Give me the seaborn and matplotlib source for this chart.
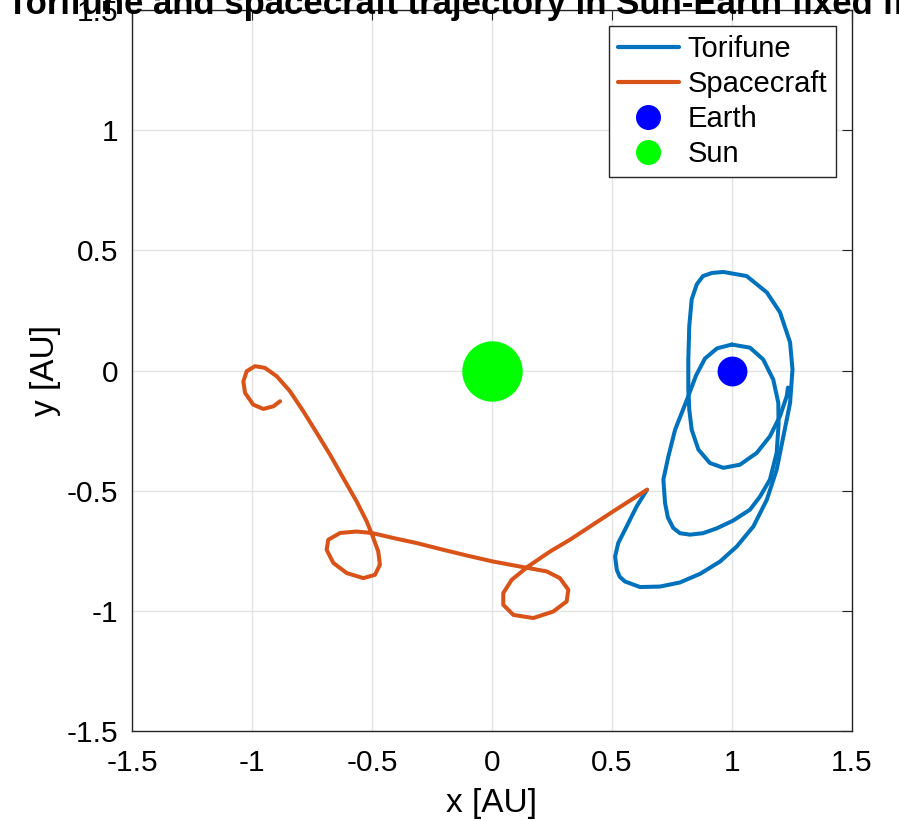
import matplotlib
matplotlib.use("Agg")
import matplotlib.pyplot as plt
from matplotlib.lines import Line2D
import seaborn as sns
import pandas as pd

# ---------------- data (AU, Sun-Earth fixed frame) ----------------
torifune_x = [0.646, 0.603, 0.561, 0.526, 0.513, 0.520, 0.532, 0.554, 0.617, 0.700, 0.783,
              0.867, 0.950, 1.020, 1.089, 1.145, 1.186, 1.214, 1.242, 1.252, 1.242,
              1.200, 1.145, 1.061, 0.964, 0.917, 0.879, 0.853, 0.832, 0.822, 0.818, 0.818,
              0.822, 0.832, 0.860, 0.908, 0.964, 1.033, 1.103, 1.158, 1.200, 1.228, 1.233]
torifune_y = [-0.496, -0.565, -0.649, -0.718, -0.774, -0.829, -0.858, -0.878, -0.901, -0.899, -0.882,
              -0.846, -0.795, -0.732, -0.649, -0.538, -0.413, -0.274, -0.135, 0.004, 0.117,
              0.242, 0.325, 0.393, 0.410, 0.406, 0.393, 0.358, 0.296, 0.185, 0.046, -0.079,
              -0.163, -0.246, -0.329, -0.385, -0.405, -0.392, -0.343, -0.274, -0.190, -0.107, -0.071]

# inner loop of the Torifune trajectory around Earth
torifune_loop_x = [0.999, 1.075, 1.130, 1.172, 1.193, 1.194, 1.186, 1.158, 1.117, 1.075,
                   1.004, 0.936, 0.879, 0.825, 0.783, 0.755, 0.733, 0.721, 0.714, 0.735, 0.763,
                   0.8125, 0.850, 0.8875, 0.9375, 0.999]
torifune_loop_y = [0.108, 0.095, 0.046, -0.038, -0.135, -0.225, -0.343, -0.454, -0.524, -0.579,
                   -0.625, -0.657, -0.677, -0.683, -0.677, -0.655, -0.612, -0.551, -0.454, -0.357, -0.246,
                   -0.121, -0.021, 0.050, 0.092, 0.108]

spacecraft_x = [-0.883, -0.911, -0.953, -0.995, -1.029, -1.036, -1.022, -0.9875, -0.946, -0.897,
                -0.842, -0.786, -0.730, -0.675, -0.620, -0.564, -0.522, -0.498, -0.474, -0.467,
                -0.4875, -0.536, -0.605, -0.661, -0.689, -0.682, -0.633, -0.564, -0.501, -0.411,
                -0.314, -0.203, -0.100, 0.005, 0.151, 0.228, 0.283, 0.318, 0.311, 0.255,
                0.172, 0.089, 0.047, 0.047, 0.082, 0.151, 0.242, 0.325, 0.505, 0.646]
spacecraft_y = [-0.128, -0.149, -0.160, -0.142, -0.093, -0.045, -0.003, 0.018, 0.011, -0.024,
                -0.086, -0.170, -0.260, -0.350, -0.447, -0.545, -0.628, -0.6875, -0.753, -0.808,
                -0.850, -0.864, -0.843, -0.801, -0.746, -0.704, -0.676, -0.670, -0.676, -0.697,
                -0.718, -0.746, -0.771, -0.795, -0.822, -0.836, -0.864, -0.9125, -0.961, -1.003,
                -1.030, -1.017, -0.975, -0.926, -0.871, -0.815, -0.753, -0.704, -0.586, -0.496]

earth_xy = [1.0, 0.0]
sun_xy = [0.0, 0.0]

ticks = [-1.5, -1.0, -0.5, 0.0, 0.5, 1.0, 1.5]
tick_labels = ["-1.5", "-1", "-0.5", "0", "0.5", "1", "1.5"]
legend_labels = ["Torifune", "Spacecraft", "Earth", "Sun"]
title = "Torifune and spacecraft trajectory in Sun-Earth fixed frame"

# ---------------- style ----------------
sns.set_style("white")
plt.rcParams["font.family"] = ["Liberation Sans", "DejaVu Sans"]
plt.rcParams["axes.unicode_minus"] = False
plt.rcParams["text.color"] = "black"
plt.rcParams["axes.labelcolor"] = "black"

C_TOR = "#0072BD"
C_SC = "#D95319"
C_EARTH = "#0000FF"
C_SUN = "#00FF00"

fig = plt.figure(figsize=(8.99, 8.21), dpi=100)
ax = fig.add_axes([132 / 899, 90 / 821, 720 / 899, 721 / 821])

df_t = pd.DataFrame({"x": torifune_x, "y": torifune_y})
df_tl = pd.DataFrame({"x": torifune_loop_x, "y": torifune_loop_y})
df_s = pd.DataFrame({"x": spacecraft_x, "y": spacecraft_y})

line_kw = dict(sort=False, estimator=None, lw=2.9, ax=ax, legend=False, zorder=3,
               solid_joinstyle="round", solid_capstyle="round")
sns.lineplot(data=df_t, x="x", y="y", color=C_TOR, **line_kw)
sns.lineplot(data=df_tl, x="x", y="y", color=C_TOR, **line_kw)
sns.lineplot(data=df_s, x="x", y="y", color=C_SC, **line_kw)

ax.plot([earth_xy[0]], [earth_xy[1]], marker="o", ls="", color=C_EARTH,
        markersize=21.5, markeredgewidth=0, zorder=4)
ax.plot([sun_xy[0]], [sun_xy[1]], marker="o", ls="", color=C_SUN,
        markersize=43.5, markeredgewidth=0, zorder=4)

ax.set_xlim(-1.5, 1.5)
ax.set_ylim(-1.5, 1.5)
ax.set_xticks(ticks)
ax.set_xticklabels(tick_labels)
ax.set_yticks(ticks)
ax.set_yticklabels(tick_labels)
ax.tick_params(direction="in", length=7, width=0.8, colors="#262626",
               labelsize=21.5, top=True, right=True)
ax.tick_params(axis="x", pad=13)
ax.tick_params(axis="y", pad=10)
for lab in ax.get_xticklabels() + ax.get_yticklabels():
    lab.set_color("black")
ax.grid(True, color="#e3e3e3", lw=1.0)
ax.set_axisbelow(True)
for s in ax.spines.values():
    s.set_visible(True)
    s.set_color("#262626")
    s.set_linewidth(1.0)

ax.set_xlabel("x [AU]", fontsize=24, labelpad=8, color="black")
ax.set_ylabel("y [AU]", fontsize=24, labelpad=4, color="black")

handles = [
    Line2D([], [], color=C_TOR, lw=3),
    Line2D([], [], color=C_SC, lw=3),
    Line2D([], [], color=C_EARTH, marker="o", ls="", markersize=18, markeredgewidth=0),
    Line2D([], [], color=C_SUN, marker="o", ls="", markersize=18, markeredgewidth=0),
]
leg = ax.legend(handles, legend_labels, loc="upper right", fontsize=21,
                frameon=True, fancybox=False, framealpha=1, edgecolor="#262626",
                borderaxespad=0.55, handlelength=2.1, handletextpad=0.3,
                labelspacing=0.24, borderpad=0.3, labelcolor="black")
leg.get_frame().set_linewidth(1.0)

fig.text(492 / 899, 1 - 14 / 821, title, ha="center", va="baseline",
         fontsize=25, fontweight="bold", color="black")

fig.savefig("out.png", dpi=100)
